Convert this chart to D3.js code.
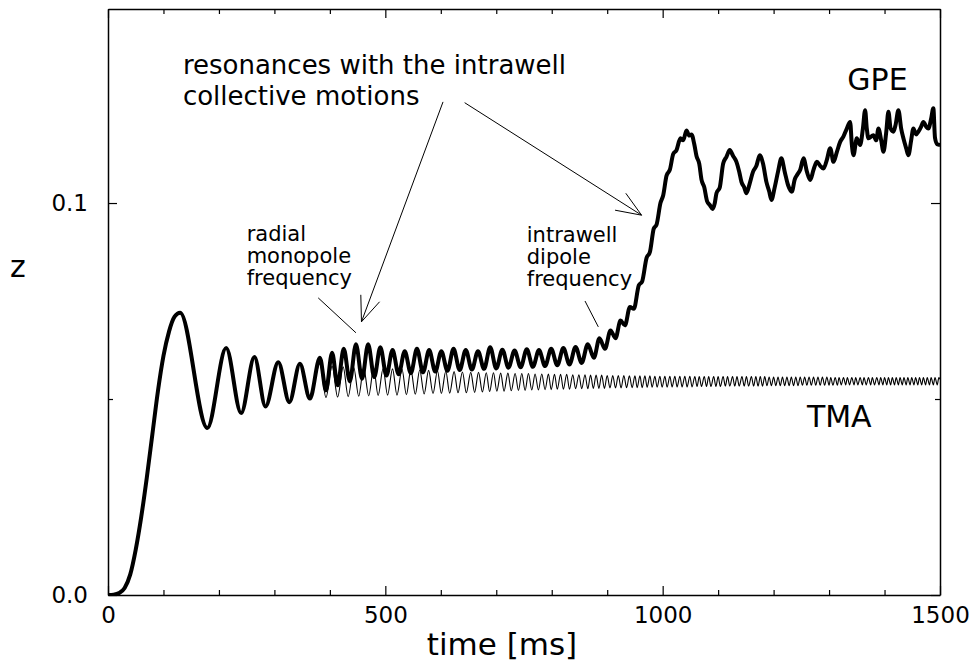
<!DOCTYPE html>
<html>
<head>
<meta charset="utf-8">
<script src="https://cdn.jsdelivr.net/npm/d3@7"></script>
<style>
  body { margin: 0; background: #fff; }
  text { font-family: "DejaVu Sans", Verdana, sans-serif; fill: #000; }
</style>
</head>
<body>
<div id="chart"></div>
<script>
// shared start of both curves (t in ms, z)
const early = [[0,0],[10,.0001],[20,.0005],[30,.0018],[40,.0052],[50,.0116],[60,.0200],[70,.0300],
  [80,.0410],[90,.0520],[100,.0610],[110,.0672],[120,.0710],[130,.0720],[179,.0426],[213,.0630],
  [240,.0464],[264,.0607],[284,.0481],[307,.0594],[327,.0492],[346,.0590],[364,.0501]];

// TMA: one row per oscillation -> [t peak, z peak, t trough, z trough]
const tmaCycles = [
  [382,.0590,393,.0504],[404,.0584,414,.0505],[424,.0582,433,.0506],[443,.0581,452,.0507],[461,.0580,470,.0508],
  [479,.0579,487,.0509],[496,.0578,504,.0510],[513,.0577,521,.0510],[530,.0576,538,.0511],[546,.0575,554,.0512],
  [562,.0574,570,.0513],[578,.0573,586,.0514],[594,.0572,601,.0514],[609,.0571,616,.0515],[624,.0570,631,.0516],
  [639,.0569,646,.0516],[654,.0568,661,.0517],[668,.0568,675,.0518],[682,.0567,688,.0519],[695,.0567,701,.0520],
  [708,.0566,714,.0520],[721,.0566,727,.0521],[734,.0565,740,.0522],[746,.0565,752,.0522],[758,.0565,764,.0523],
  [770,.0564,776,.0523],[782,.0564,788,.0524],[794,.0564,799,.0524],[805,.0563,810,.0525],[816,.0563,821,.0525],
  [827,.0563,832,.0525],[838,.0562,843,.0526],[849,.0562,854,.0526],[860,.0562,865,.0526],[870,.0561,875,.0527],
  [880,.0561,885,.0527],[890,.0561,895,.0527],[900,.0560,905,.0528],[910,.0560,915,.0528],[920,.0560,925,.0528],
  [930,.0560,935,.0529],[940,.0559,945,.0529],[950,.0559,954,.0529],[959,.0559,963,.0529],[968,.0559,972,.0530],
  [977,.0559,981,.0530],[986,.0558,990,.0530],[995,.0558,999,.0530],[1004,.0558,1008,.0530],[1013,.0558,1017,.0531],
  [1022,.0558,1026,.0531],[1031,.0558,1035,.0531],[1040,.0558,1044,.0531],[1049,.0558,1053,.0531],[1058,.0557,1062,.0532],
  [1066,.0557,1070,.0532],[1075,.0557,1079,.0532],[1083,.0557,1087,.0532],[1092,.0557,1096,.0532],[1100,.0557,1104,.0532],
  [1109,.0557,1113,.0533],[1117,.0557,1121,.0533],[1126,.0557,1130,.0533],[1134,.0557,1138,.0533],[1143,.0557,1147,.0533],
  [1151,.0557,1155,.0533],[1160,.0557,1164,.0533],[1168,.0557,1172,.0533],[1176,.0557,1180,.0533],[1184,.0557,1188,.0534],
  [1192,.0556,1196,.0534],[1200,.0556,1204,.0534],[1208,.0556,1212,.0534],[1216,.0556,1220,.0534],[1224,.0556,1228,.0534],
  [1232,.0556,1236,.0534],[1240,.0556,1244,.0534],[1248,.0556,1252,.0535],[1256,.0556,1260,.0535],[1264,.0556,1268,.0535],
  [1272,.0556,1276,.0535],[1280,.0556,1284,.0535],[1288,.0556,1292,.0535],[1296,.0556,1300,.0535],[1303,.0555,1307,.0535],
  [1311,.0555,1315,.0535],[1318,.0555,1322,.0536],[1326,.0555,1330,.0536],[1333,.0555,1337,.0536],[1341,.0555,1345,.0536],
  [1348,.0555,1352,.0536],[1356,.0555,1360,.0536],[1363,.0555,1367,.0536],[1371,.0555,1375,.0536],[1378,.0555,1382,.0536],
  [1386,.0555,1390,.0536],[1393,.0555,1397,.0536],[1400,.0555,1404,.0536],[1407,.0555,1411,.0536],[1414,.0555,1418,.0536],
  [1421,.0555,1425,.0536],[1428,.0555,1432,.0536],[1435,.0555,1439,.0536],[1442,.0555,1446,.0536],[1449,.0555,1453,.0536],
  [1456,.0555,1460,.0536],[1463,.0555,1467,.0536],[1470,.0555,1474,.0536],[1477,.0555,1481,.0536],[1484,.0555,1488,.0536],
  [1491,.0555,1495,.0536],[1498,.0555,1500,.0550]
];

// GPE after the two curves split
const gpeLate = [[382,.0605],[393,.0522],[404,.0618],[414,.0535],[425,.0628],[436,.0545],[447,.0640],[458,.0552],
  [469,.0640],[480,.0556],[491,.0632],[502,.0560],[513,.0625],[524,.0563],[535,.0622],[546,.0566],[557,.0628],
  [568,.0568],[579,.0625],[590,.0570],[601,.0622],[612,.0572],[623,.0628],[634,.0574],[645,.0625],[656,.0575],
  [667,.0622],[678,.0577],[689,.0632],[700,.0578],[711,.0626],[722,.0580],[733,.0624],[744,.0581],[755,.0627],
  [766,.0582],[777,.0625],[788,.0584],[799,.0628],[810,.0586],[821,.0630],[832,.0588],[843,.0633],[854,.0592],
  [865,.0640],[876,.0605],[886,.0655],[896,.0628],[906,.0675],[915,.0655],[924,.0700],[932,.0688],[941,.0735],
  [948,.0730],[957,.0790],[963,.0800],[971,.0860],[977,.0875],[984,.0935],[989,.0945],[996,.1000],[1001,.1020],
  [1007,.1070],[1013,.1085],[1019,.1125],[1025,.1135],[1032,.1165],[1037,.1160],[1043,.1185],[1048,.1172],
  [1052,.1175],[1057,.1150],[1061,.1120],[1066,.1100],[1070,.1060],[1075,.1040],[1080,.1005],[1085,.0995],
  [1090,.0985],[1094,.1000],[1097,.1025],[1103,.1040],[1109,.1100],[1115,.1118],[1121,.1135],[1127,.1120],
  [1133,.1105],[1138,.1080],[1142,.1054],[1147,.1040],[1151,.1025],[1157,.1050],[1163,.1080],[1169,.1095],
  [1175,.1122],[1181,.1100],[1187,.1054],[1192,.1030],[1196,.1008],[1202,.1040],[1208,.1080],[1214,.1114],
  [1220,.1080],[1226,.1046],[1233,.1029],[1238,.1060],[1242,.1071],[1248,.1085],[1254,.1114],[1260,.1080],
  [1266,.1059],[1272,.1085],[1278,.1105],[1284,.1095],[1290,.1088],[1296,.1110],[1302,.1140],[1308,.1105],
  [1314,.1130],[1320,.1156],[1326,.1170],[1332,.1190],[1338,.1207],[1341,.1150],[1344,.1122],[1350,.1165],
  [1356,.1148],[1361,.1190],[1365,.1237],[1368,.1190],[1371,.1165],[1380,.1173],[1385,.1160],[1389,.1190],
  [1394,.1160],[1398,.1131],[1403,.1180],[1407,.1233],[1411,.1190],[1416,.1182],[1420,.1200],[1425,.1237],
  [1430,.1190],[1434,.1165],[1439,.1140],[1443,.1122],[1448,.1160],[1452,.1190],[1457,.1175],[1461,.1182],
  [1466,.1195],[1470,.1207],[1475,.1195],[1479,.1190],[1484,.1215],[1488,.1242],[1491,.1166],[1495,.1150],
  [1500,.1148]];

const xLabelTicks = [0, 500, 1000, 1500];
const yLabelTicks = [0, 0.1];

// text annotations, anchored in data units [t, z]
const notes = [
  {lines: ["resonances with the intrawell", "collective motions"], at: [135, .1329], size: 26, lh: 31},
  {lines: ["radial", "monopole", "frequency"], at: [250, .0902], size: 21, lh: 22},
  {lines: ["intrawell", "dipole", "frequency"], at: [755, .0901], size: 21, lh: 22},
  {lines: ["GPE"], at: [1333, .1288], size: 30, lh: 0},
  {lines: ["TMA"], at: [1260, .0429], size: 30, lh: 0}
];
// arrows and leader lines: [from, to] in data units
const arrows = [[[604, .1258], [457, .0697]], [[643, .1256], [962, .0969]]];
const leaders = [[[379, .0758], [447, .0669]], [[860, .0750], [884, .0684]]];

const width = 975, height = 666;
const margin = {top: 9, right: 35, bottom: 71, left: 108};

const svg = d3.select("#chart").append("svg")
  .attr("width", width)
  .attr("height", height);

const x = d3.scaleLinear().domain([0, 1500]).range([margin.left, width - margin.right]);
const y = d3.scaleLinear().domain([0, 0.1495]).range([height - margin.bottom, margin.top]);

svg.append("clipPath").attr("id", "plotclip")
  .append("rect")
  .attr("x", margin.left).attr("y", margin.top)
  .attr("width", width - margin.left - margin.right)
  .attr("height", height - margin.top - margin.bottom);

const tmaData = early.concat(tmaCycles.flatMap(r => [[r[0], r[1]], [r[2], r[3]]]));
const gpeData = early.concat(gpeLate);

const line = d3.line()
  .x(d => x(d[0]))
  .y(d => y(d[1]))
  .curve(d3.curveMonotoneX);

const plot = svg.append("g").attr("clip-path", "url(#plotclip)");

plot.append("path")
  .datum(gpeData)
  .attr("d", line)
  .attr("fill", "none")
  .attr("stroke", "#000")
  .attr("stroke-width", 4)
  .attr("stroke-linejoin", "round");

plot.append("path")
  .datum(tmaData)
  .attr("d", line)
  .attr("fill", "none")
  .attr("stroke", "#000")
  .attr("stroke-width", 1.1);

// axes with inward ticks
const xMinor = d3.range(0, 1501, 100);
const yMinor = [0, 0.05, 0.1];
function tickLen(v, majors) { return majors.includes(v) ? 9 : 5; }

function xAxis(g, bottom) {
  const ax = (bottom ? d3.axisBottom(x) : d3.axisTop(x))
    .tickValues(xMinor)
    .tickSizeOuter(0)
    .tickSizeInner(0)
    .tickPadding(12)
    .tickFormat(d => (bottom && xLabelTicks.includes(d)) ? d : "");
  g.call(ax);
  g.selectAll(".tick line")
    .attr("y2", d => (bottom ? -1 : 1) * tickLen(d, xLabelTicks));
}
function yAxis(g, left) {
  const ax = (left ? d3.axisLeft(y) : d3.axisRight(y))
    .tickValues(yMinor)
    .tickSizeOuter(0)
    .tickSizeInner(0)
    .tickPadding(20)
    .tickFormat(d => (left && yLabelTicks.includes(d)) ? d3.format(".1f")(d) : "");
  g.call(ax);
  g.selectAll(".tick line")
    .attr("x2", d => (left ? 1 : -1) * tickLen(d, yLabelTicks));
}

svg.append("g").attr("transform", `translate(0,${height - margin.bottom})`).call(g => xAxis(g, true));
svg.append("g").attr("transform", `translate(0,${margin.top})`).call(g => xAxis(g, false));
svg.append("g").attr("transform", `translate(${margin.left},0)`).call(g => yAxis(g, true));
svg.append("g").attr("transform", `translate(${width - margin.right},0)`).call(g => yAxis(g, false));

svg.selectAll(".domain").attr("stroke", "#000").attr("stroke-width", 1.5);
svg.selectAll(".tick line").attr("stroke", "#000").attr("stroke-width", 1.2);
svg.selectAll(".tick text").style("font-size", "23px").style("font-family", "'DejaVu Sans', Verdana, sans-serif");

// axis titles
svg.append("text")
  .attr("x", 502)
  .attr("y", 655)
  .attr("text-anchor", "middle")
  .style("font-size", "31px")
  .text("time [ms]");

svg.append("text")
  .attr("x", 10)
  .attr("y", 277)
  .style("font-size", "30px")
  .text("z");

// annotations, one text element per line
notes.forEach(n => {
  n.lines.forEach((s, i) => {
    svg.append("text")
      .attr("x", x(n.at[0]))
      .attr("y", y(n.at[1]) + i * n.lh)
      .style("font-size", n.size + "px")
      .text(s);
  });
});

leaders.forEach(l => {
  svg.append("line")
    .attr("x1", x(l[0][0])).attr("y1", y(l[0][1]))
    .attr("x2", x(l[1][0])).attr("y2", y(l[1][1]))
    .attr("stroke", "#000").attr("stroke-width", 1);
});

arrows.forEach(a => {
  const x1 = x(a[0][0]), y1 = y(a[0][1]), x2 = x(a[1][0]), y2 = y(a[1][1]);
  const ang = Math.atan2(y1 - y2, x1 - x2);
  const head = 27, spread = 0.38;
  svg.append("line")
    .attr("x1", x1).attr("y1", y1).attr("x2", x2).attr("y2", y2)
    .attr("stroke", "#000").attr("stroke-width", 1);
  [-spread, spread].forEach(s => {
    svg.append("line")
      .attr("x1", x2).attr("y1", y2)
      .attr("x2", x2 + head * Math.cos(ang + s))
      .attr("y2", y2 + head * Math.sin(ang + s))
      .attr("stroke", "#000").attr("stroke-width", 1);
  });
});
</script>
</body>
</html>
